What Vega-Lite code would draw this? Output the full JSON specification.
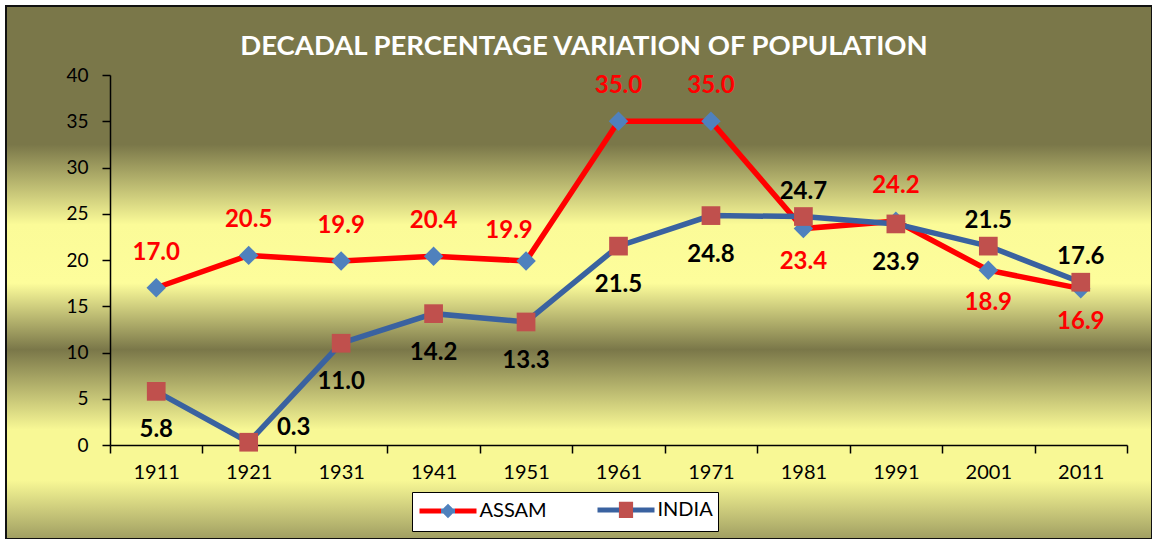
{
  "$schema": "https://vega.github.io/schema/vega-lite/v6.json",
  "width": 1146,
  "height": 533,
  "autosize": "none",
  "padding": {"left": 6, "top": 6, "right": 0, "bottom": 0},
  "background": "white",
  "title": {
    "text": "DECADAL PERCENTAGE VARIATION OF POPULATION",
    "font": "Lato",
    "fontSize": 27.5,
    "fontWeight": "bold",
    "color": "white",
    "frame": "group",
    "anchor": "middle",
    "offset": -76,
    "baseline": "alphabetic",
    "dx": 5
  },
  "data": {
    "values": [
      {"year": "1911", "series": "ASSAM", "value": 17.0},
      {"year": "1921", "series": "ASSAM", "value": 20.5},
      {"year": "1931", "series": "ASSAM", "value": 19.9},
      {"year": "1941", "series": "ASSAM", "value": 20.4},
      {"year": "1951", "series": "ASSAM", "value": 19.9},
      {"year": "1961", "series": "ASSAM", "value": 35.0},
      {"year": "1971", "series": "ASSAM", "value": 35.0},
      {"year": "1981", "series": "ASSAM", "value": 23.4},
      {"year": "1991", "series": "ASSAM", "value": 24.2},
      {"year": "2001", "series": "ASSAM", "value": 18.9},
      {"year": "2011", "series": "ASSAM", "value": 16.9},
      {"year": "1911", "series": "INDIA", "value": 5.8},
      {"year": "1921", "series": "INDIA", "value": 0.3},
      {"year": "1931", "series": "INDIA", "value": 11.0},
      {"year": "1941", "series": "INDIA", "value": 14.2},
      {"year": "1951", "series": "INDIA", "value": 13.3},
      {"year": "1961", "series": "INDIA", "value": 21.5},
      {"year": "1971", "series": "INDIA", "value": 24.8},
      {"year": "1981", "series": "INDIA", "value": 24.7},
      {"year": "1991", "series": "INDIA", "value": 23.9},
      {"year": "2001", "series": "INDIA", "value": 21.5},
      {"year": "2011", "series": "INDIA", "value": 17.6}
    ]
  },
  "encoding": {
    "x": {
      "field": "year",
      "type": "ordinal",
      "scale": {"type": "band", "range": [104, 1121], "paddingInner": 0, "paddingOuter": 0},
      "axis": {
        "title": null,
        "labelAngle": 0,
        "offset": -94,
        "tickBand": "extent",
        "domainColor": "#000000",
        "domainWidth": 1.5,
        "tickColor": "#000000",
        "tickWidth": 1.5,
        "tickSize": 8,
        "labelFont": "Lato",
        "labelFontSize": 20,
        "labelColor": "#000000",
        "labelPadding": 9,
        "grid": false
      }
    },
    "y": {
      "field": "value",
      "type": "quantitative",
      "scale": {"domain": [0, 40], "range": [439, 69], "nice": false, "zero": true},
      "axis": {
        "title": null,
        "values": [0, 5, 10, 15, 20, 25, 30, 35, 40],
        "offset": -104,
        "grid": false,
        "domainColor": "#000000",
        "domainWidth": 1.5,
        "tickColor": "#000000",
        "tickWidth": 1.5,
        "tickSize": 8,
        "labelFont": "Lato",
        "labelFontSize": 19,
        "labelColor": "#000000",
        "labelPadding": 14
      }
    }
  },
  "layer": [
    {
      "transform": [{"filter": "datum.series == 'ASSAM'"}],
      "mark": {"type": "line", "color": "#ff0000", "strokeWidth": 5.5},
      "encoding": {}
    },
    {
      "transform": [{"filter": "datum.series == 'ASSAM'"}],
      "mark": {"type": "point", "shape": "diamond", "filled": true, "color": "#4f81bd", "size": 380, "opacity": 1, "strokeWidth": 0}
    },
    {
      "transform": [{"filter": "datum.series == 'INDIA'"}],
      "mark": {"type": "line", "color": "#3a62a0", "strokeWidth": 5.5},
      "encoding": {}
    },
    {
      "transform": [{"filter": "datum.series == 'INDIA'"}],
      "mark": {"type": "point", "shape": "square", "filled": true, "color": "#c0504d", "size": 350, "opacity": 1, "strokeWidth": 0}
    },
    {
      "transform": [{"filter": "datum.series == 'ASSAM' && indexof(['1951','1981','2001','2011'], datum.year) < 0"}],
      "mark": {"type": "text", "font": "Lato", "fontWeight": "bold", "fontSize": 24, "color": "#ff0000", "baseline": "middle", "dy": -35},
      "encoding": {"text": {"field": "value", "type": "quantitative", "format": ".1f"}}
    },
    {
      "transform": [{"filter": "datum.series == 'ASSAM' && datum.year == '1951'"}],
      "mark": {"type": "text", "font": "Lato", "fontWeight": "bold", "fontSize": 24, "color": "#ff0000", "baseline": "middle", "dy": -30, "dx": -17},
      "encoding": {"text": {"field": "value", "type": "quantitative", "format": ".1f"}}
    },
    {
      "transform": [{"filter": "datum.series == 'ASSAM' && indexof(['1981','2001','2011'], datum.year) >= 0"}],
      "mark": {"type": "text", "font": "Lato", "fontWeight": "bold", "fontSize": 24, "color": "#ff0000", "baseline": "middle", "dy": 33},
      "encoding": {"text": {"field": "value", "type": "quantitative", "format": ".1f"}}
    },
    {
      "transform": [{"filter": "datum.series == 'INDIA' && indexof(['1921','1981','2001','2011'], datum.year) < 0"}],
      "mark": {"type": "text", "font": "Lato", "fontWeight": "bold", "fontSize": 24, "color": "#000000", "baseline": "middle", "dy": 39},
      "encoding": {"text": {"field": "value", "type": "quantitative", "format": ".1f"}}
    },
    {
      "transform": [{"filter": "datum.series == 'INDIA' && indexof(['1981','2001','2011'], datum.year) >= 0"}],
      "mark": {"type": "text", "font": "Lato", "fontWeight": "bold", "fontSize": 24, "color": "#000000", "baseline": "middle", "dy": -25},
      "encoding": {"text": {"field": "value", "type": "quantitative", "format": ".1f"}}
    },
    {
      "transform": [{"filter": "datum.series == 'INDIA' && datum.year == '1921'"}],
      "mark": {"type": "text", "font": "Lato", "fontWeight": "bold", "fontSize": 24, "color": "#000000", "baseline": "middle", "dy": -14, "dx": 45},
      "encoding": {"text": {"field": "value", "type": "quantitative", "format": ".1f"}}
    },
    {
      "transform": [{"filter": "false"}],
      "mark": {"type": "point", "filled": true, "opacity": 1, "size": 400, "strokeWidth": 5},
      "encoding": {
        "stroke": {
          "field": "series",
          "type": "nominal",
          "scale": {
            "domain": ["ASSAM", "INDIA"],
            "range": [
              {"expr": "{gradient: 'linear', x1: 0, y1: 0, x2: 1, y2: 0, stops: [{offset: 0, color: '#ff0000'}, {offset: 0.375, color: '#ff0000'}, {offset: 0.375, color: '#4f81bd'}, {offset: 0.625, color: '#4f81bd'}, {offset: 0.625, color: '#ff0000'}, {offset: 1, color: '#ff0000'}]}"},
              {"expr": "{gradient: 'linear', x1: 0, y1: 0, x2: 1, y2: 0, stops: [{offset: 0, color: '#3a62a0'}, {offset: 0.375, color: '#3a62a0'}, {offset: 0.375, color: '#c0504d'}, {offset: 0.625, color: '#c0504d'}, {offset: 0.625, color: '#3a62a0'}, {offset: 1, color: '#3a62a0'}]}"}
            ]
          },
          "legend": {"orient": "none", "legendX": 406, "legendY": 486, "direction": "horizontal", "title": null}
        },
        "fill": {
          "field": "series",
          "type": "nominal",
          "scale": {"domain": ["ASSAM", "INDIA"], "range": ["#4f81bd", "#c0504d"]},
          "legend": {"orient": "none", "legendX": 406, "legendY": 486, "direction": "horizontal", "title": null}
        },
        "shape": {
          "field": "series",
          "type": "nominal",
          "scale": {"domain": ["ASSAM", "INDIA"], "range": [
            "M-2.85,0L2.85,0M0,-0.37L0.37,0L0,0.37L-0.37,0Z",
            "M-2.85,0L2.85,0M-0.46,-0.57L0.46,-0.57L0.46,0.57L-0.46,0.57Z"
          ]},
          "legend": {"orient": "none", "legendX": 406, "legendY": 486, "direction": "horizontal", "title": null}
        }
      }
    }
  ],
  "config": {
    "view": {
      "fill": {
        "gradient": "linear", "x1": 0, "y1": 0, "x2": 0, "y2": 1,
        "stops": [
          {"offset": 0, "color": "#7a7749"},
          {"offset": 0.26, "color": "#7a7749"},
          {"offset": 0.41, "color": "#fbfb98"},
          {"offset": 0.52, "color": "#fdfd9b"},
          {"offset": 0.645, "color": "#7a7749"},
          {"offset": 0.795, "color": "#f8f895"},
          {"offset": 0.89, "color": "#f8f895"},
          {"offset": 1, "color": "#a09e62"}
        ]
      },
      "stroke": "#111111",
      "strokeWidth": 2
    },
    "legend": {
      "labelFont": "Lato",
      "labelFontSize": 20,
      "labelColor": "#000000",
      "labelOffset": 19,
      "symbolOffset": 18.5,
      "symbolSize": 400,
      "symbolStrokeWidth": 5,
      "symbolOpacity": 1,
      "fillColor": "#ffffff",
      "strokeColor": "#000000",
      "padding": 5,
      "columnPadding": 40
    }
  }
}
